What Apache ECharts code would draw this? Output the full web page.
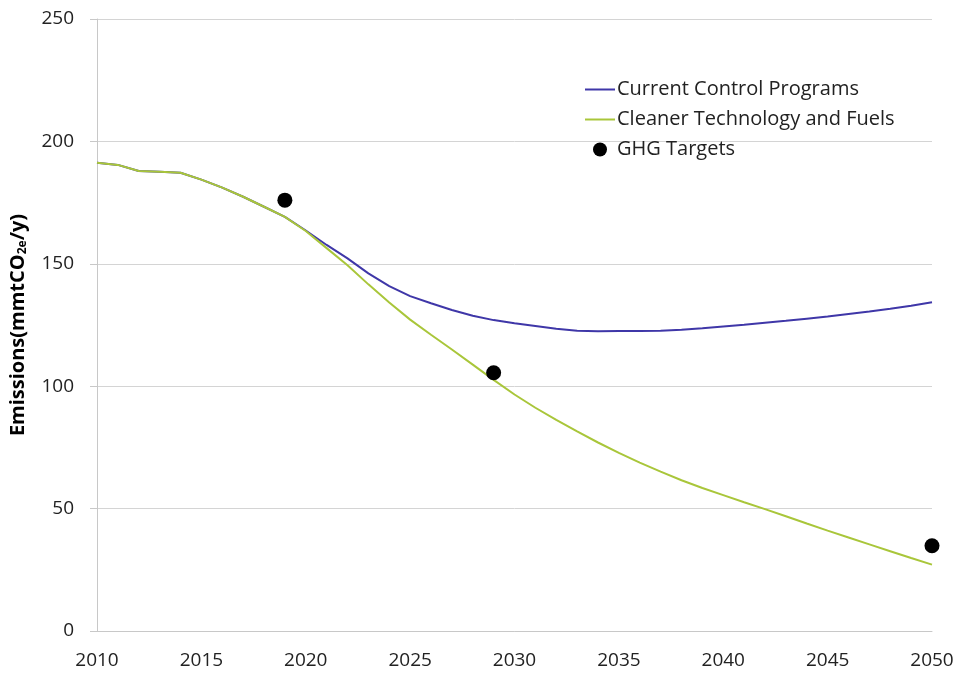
<!DOCTYPE html>
<html>
<head>
<meta charset="utf-8">
<script src="https://cdn.jsdelivr.net/npm/echarts@6/dist/echarts.min.js"></script>
<style>
    html, body { margin: 0; padding: 0; background: #fff; }
    #chart { width: 961px; height: 677px; }
</style>
</head>
<body>
<div id="chart"></div>
<script>
let years = [2010, 2011, 2012, 2013, 2014, 2015, 2016, 2017, 2018, 2019, 2020,
    2021, 2022, 2023, 2024, 2025, 2026, 2027, 2028, 2029, 2030,
    2031, 2032, 2033, 2034, 2035, 2036, 2037, 2038, 2039, 2040,
    2041, 2042, 2043, 2044, 2045, 2046, 2047, 2048, 2049, 2050];

// Current Control Programs
let currentControl = [191.3, 190.4, 187.9, 187.6, 187.2, 184.4, 181.1, 177.4, 173.3, 169.2, 163.6,
    157.7, 152.2, 146.1, 140.9, 136.8, 133.9, 131.1, 128.8, 127.0, 125.7,
    124.6, 123.5, 122.7, 122.4, 122.5, 122.5, 122.7, 123.1, 123.7, 124.4,
    125.1, 125.9, 126.7, 127.6, 128.5, 129.5, 130.5, 131.6, 132.9, 134.3];

// Cleaner Technology and Fuels
let cleanerTech = [191.3, 190.4, 187.9, 187.6, 187.2, 184.4, 181.1, 177.4, 173.3, 169.2, 163.4,
    156.4, 149.4, 141.6, 134.2, 127.2, 121.0, 115.0, 108.8, 102.6, 96.6,
    91.2, 86.2, 81.5, 77.0, 72.8, 68.8, 65.1, 61.6, 58.4, 55.5,
    52.6, 49.8, 46.9, 43.9, 41.0, 38.2, 35.4, 32.6, 29.8, 27.1];

// GHG Targets
let targetYears = [2019, 2029, 2050];
let targetValues = [176, 105.5, 34.8];

let yTicks = [0, 50, 100, 150, 200, 250];
let xTicks = [2010, 2015, 2020, 2025, 2030, 2035, 2040, 2045, 2050];

let fontName = '"Open Sans", "DejaVu Sans", sans-serif';
let lineIcon = 'path://M0,0 L30,0 L30,2 L0,2 Z';

function pairs(xs, ys) {
    return xs.map(function (x, i) { return [x, ys[i]]; });
}

let myChart = echarts.init(document.getElementById('chart'));

let option = {
    animation: false,
    textStyle: { fontFamily: fontName },
    grid: { left: 96, right: 29, top: 19, bottom: 46, containLabel: false },
    legend: {
        orient: 'vertical',
        left: 585,
        top: 79,
        itemWidth: 30,
        itemHeight: 14,
        itemGap: 9,
        padding: 0,
        textStyle: { fontSize: 20, lineHeight: 21, color: '#222', fontFamily: fontName, padding: [0, 0, 0, -3] },
        data: [
            { name: 'Current Control Programs', icon: lineIcon },
            { name: 'Cleaner Technology and Fuels', icon: lineIcon },
            { name: 'GHG Targets', icon: 'circle', itemStyle: { color: '#000', opacity: 1 } }
        ]
    },
    xAxis: {
        type: 'value',
        min: xTicks[0],
        max: xTicks[xTicks.length - 1],
        interval: 5,
        axisLine: { show: true, lineStyle: { color: '#c8c8c8', width: 1 } },
        axisTick: { show: false },
        splitLine: { show: false },
        axisLabel: {
            fontSize: 19,
            color: '#222',
            margin: 20,
            formatter: function (v) { return String(v); }
        }
    },
    yAxis: {
        type: 'value',
        min: yTicks[0],
        max: yTicks[yTicks.length - 1],
        interval: 50,
        name: '{a|Emissions(mmtCO}{s|2e}{a|/y)}',
        nameLocation: 'middle',
        nameGap: 68,
        nameTextStyle: {
            rich: {
                a: { fontSize: 20, fontWeight: 'bold', color: '#000', fontFamily: fontName },
                s: { fontSize: 12, fontWeight: 'bold', color: '#000', fontFamily: fontName, padding: [10, 0, 0, 0] }
            }
        },
        axisLine: { show: true, lineStyle: { color: '#c8c8c8', width: 1 } },
        axisTick: { show: true, length: 7, lineStyle: { color: '#c8c8c8' } },
        splitLine: { show: true, lineStyle: { color: '#d4d4d4', width: 1 } },
        axisLabel: { fontSize: 19, color: '#222', margin: 23 }
    },
    series: [
        {
            name: 'Current Control Programs',
            type: 'line',
            symbol: 'none',
            data: pairs(years, currentControl),
            lineStyle: { color: '#3f37a8', width: 2 },
            itemStyle: { color: '#3f37a8' },
            z: 2
        },
        {
            name: 'Cleaner Technology and Fuels',
            type: 'line',
            symbol: 'none',
            data: pairs(years, cleanerTech),
            lineStyle: { color: '#a9c63a', width: 2 },
            itemStyle: { color: '#a9c63a' },
            z: 3
        },
        {
            name: 'GHG Targets',
            type: 'scatter',
            symbol: 'circle',
            symbolSize: 15,
            data: pairs(targetYears, targetValues),
            itemStyle: { color: '#000', opacity: 1 },
            z: 4
        }
    ]
};
myChart.setOption(option);
</script>
</body>
</html>
